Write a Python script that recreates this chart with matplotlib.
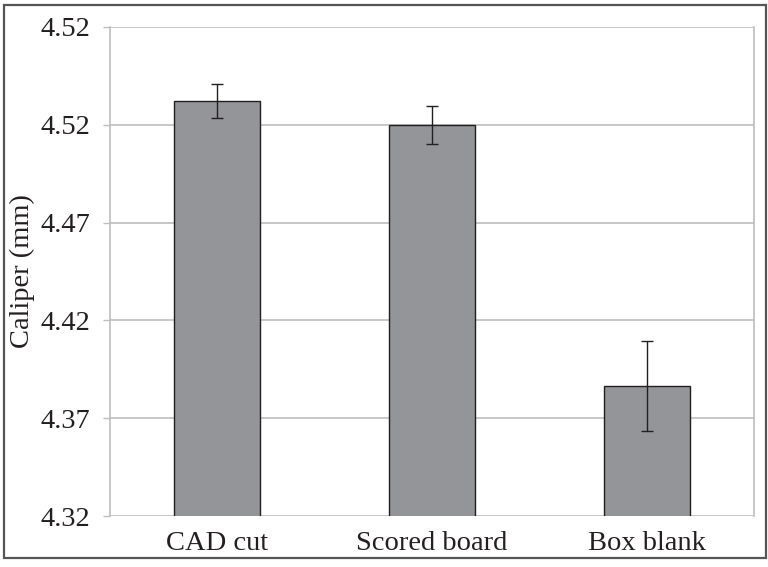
import matplotlib
matplotlib.use("Agg")
import matplotlib.pyplot as plt
from matplotlib.patches import Rectangle

# data
categories = ["CAD cut", "Scored board", "Box blank"]
caliper_mm = [4.532, 4.520, 4.3865]
caliper_err = [0.0087, 0.0097, 0.0232]

tick_values = [4.32, 4.37, 4.42, 4.47, 4.52, 4.57]
tick_labels = ["4.32", "4.37", "4.42", "4.47", "4.52", "4.52"]

plt.rcParams["font.family"] = ["Liberation Serif", "DejaVu Serif"]

W, H = 768, 567
fig = plt.figure(figsize=(W / 100, H / 100), dpi=100)
ax = fig.add_axes([110 / W, 1 - 516 / H, (754 - 110) / W, (516 - 27) / H])

x = list(range(len(categories)))
ax.bar(x, caliper_mm, width=0.4, color="#939598", edgecolor="#231F20",
       linewidth=1.0, zorder=3)
ax.errorbar(x, caliper_mm, yerr=caliper_err, fmt="none", ecolor="#231F20",
            elinewidth=1.0, capsize=4, capthick=1.0, zorder=4)

ax.set_xlim(-0.5, 2.5)
ax.set_ylim(4.32, 4.57)
ax.set_yticks(tick_values)
ax.set_yticklabels(tick_labels, fontsize=20.5, color="#231F20")
ax.set_xticks(x)
ax.set_xticklabels(categories, fontsize=20.5, color="#231F20")
ax.tick_params(axis="x", length=0, pad=11)
ax.tick_params(axis="y", length=5, width=1, color="#BDBDBD", pad=9)
ax.yaxis.grid(True, color="#BDBDBD", linewidth=1.2, zorder=0)
ax.set_axisbelow(True)

for side in ["left", "right"]:
    ax.spines[side].set_color("#BDBDBD")
    ax.spines[side].set_linewidth(1.2)
for side in ["top", "bottom"]:
    ax.spines[side].set_visible(False)

ax.set_ylabel("Caliper (mm)", fontsize=20.5, color="#231F20")
ax.yaxis.set_label_coords(-(110 - 35) / (754 - 110), 0.5)

# outer frame around the chart
fig.patches.append(Rectangle((4 / W, 1 - 558 / H), (766 - 4) / W, (558 - 5) / H,
                             transform=fig.transFigure, fill=False,
                             edgecolor="#555555", linewidth=1.6))

fig.savefig("out.png", dpi=100, facecolor="white")
